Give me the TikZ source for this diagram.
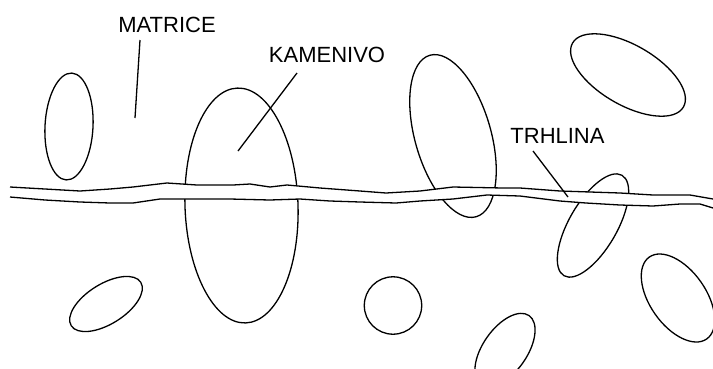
\documentclass[tikz,border=0pt]{standalone}
\usepackage{fontspec}
\setmainfont{Liberation Sans}
\begin{document}
\begin{tikzpicture}[x=1pt,y=-1pt, line join=round,
  grain/.style={draw=black, line width=1.3pt},
  crackline/.style={draw=black, line width=1.3pt},
  leader/.style={draw=black, line width=1.3pt},
  lbl/.style={font=\fontsize{22}{22}\selectfont, inner sep=0pt, anchor=center}]
\useasboundingbox (0,0) rectangle (713,368);
\fill[white] (0,0) rectangle (713,368);
\clip (0,0) rectangle (713,368);
% grains (kamenivo)
\draw[grain, rotate around={-3:(69,126.5)}] (69,126.5) ellipse [x radius=24pt, y radius=53.5pt];
\draw[grain, rotate around={2:(241.5,205.5)}] (241.5,205.5) ellipse [x radius=56.5pt, y radius=117.5pt];
\draw[grain, rotate around={16:(453,136)}] (453,136) ellipse [x radius=38pt, y radius=84pt];
\draw[grain, rotate around={-30:(628,75)}] (628,75) ellipse [x radius=64pt, y radius=30pt];
\draw[grain, rotate around={-30:(593,225.5)}] (593,225.5) ellipse [x radius=24pt, y radius=58pt];
\draw[grain, rotate around={32:(106,304)}] (106,304) ellipse [x radius=41pt, y radius=20pt];
\draw[grain] (393,305.5) circle [radius=28.7pt];
\draw[grain, rotate around={55:(505,350)}] (505,350) ellipse [x radius=42pt, y radius=22pt];
\draw[grain, rotate around={-55:(678,298)}] (678,298) ellipse [x radius=50pt, y radius=28pt];
% crack (trhlina)
\fill[white] (10,187) -- (45,189) -- (80,191) -- (110,189) -- (133,187) -- (167,183) -- (197,185) -- (233,185) -- (250,184) -- (270,187) -- (287,185) -- (320,188) -- (360,191) -- (386,193) -- (420,191) -- (453,187) -- (503,188) -- (520,188) -- (560,191) -- (590,192) -- (620,193) -- (653,195) -- (690,195) -- (713,199)
  -- (713,208) -- (700,204) -- (680,204) -- (653,206) -- (620,205) -- (586,203) -- (560,201) -- (520,196) -- (487,195) -- (453,199) -- (420,201) -- (396,203) -- (360,202) -- (330,201) -- (300,199) -- (270,200) -- (230,199) -- (187,199) -- (160,199) -- (133,203) -- (110,203) -- (80,202) -- (45,200) -- (10,197) -- cycle;
\draw[crackline] (10,187) -- (45,189) -- (80,191) -- (110,189) -- (133,187) -- (167,183) -- (197,185) -- (233,185) -- (250,184) -- (270,187) -- (287,185) -- (320,188) -- (360,191) -- (386,193) -- (420,191) -- (453,187) -- (503,188) -- (520,188) -- (560,191) -- (590,192) -- (620,193) -- (653,195) -- (690,195) -- (713,199);
\draw[crackline] (10,197) -- (45,200) -- (80,202) -- (110,203) -- (133,203) -- (160,199) -- (187,199) -- (230,199) -- (270,200) -- (300,199) -- (330,201) -- (360,202) -- (396,203) -- (420,201) -- (453,199) -- (487,195) -- (520,196) -- (560,201) -- (586,203) -- (620,205) -- (653,206) -- (680,204) -- (700,204) -- (713,208);
% labels
\node[lbl] (matrice) at (167,25) {MATRICE};
\node[lbl] (kamenivo) at (327,55) {KAMENIVO};
\node[lbl] (trhlina) at (557.5,135.5) {TRHLINA};
\coordinate (mS) at (140,40);
\coordinate (mE) at (135,118);
\coordinate (kS) at (297,73);
\coordinate (kE) at (238,151);
\coordinate (tS) at (533,151);
\coordinate (tE) at (568,197);
\draw[leader] (mS) -- (mE);
\draw[leader] (kS) -- (kE);
\draw[leader] (tS) -- (tE);
\end{tikzpicture}
\end{document}
